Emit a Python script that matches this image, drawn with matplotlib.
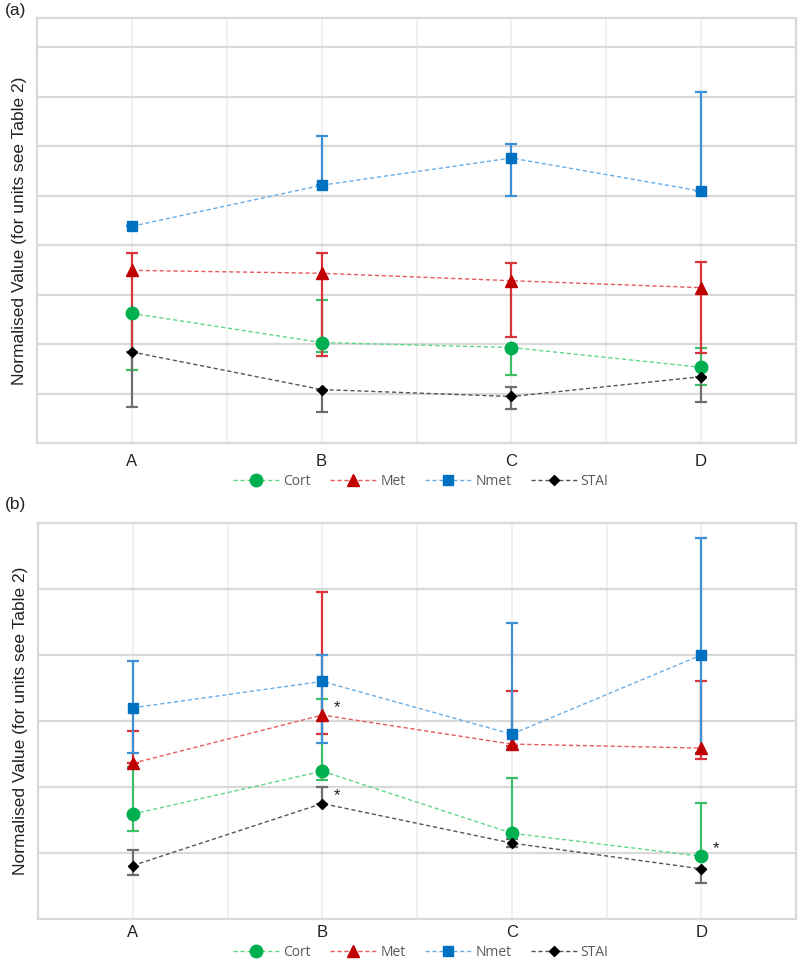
import matplotlib.pyplot as plt
import numpy as np

plt.rcParams['font.family'] = ['Liberation Sans', 'DejaVu Sans']

groups = ['A', 'B', 'C', 'D']
series = ['Cort', 'Met', 'Nmet', 'STAI']

# panel (a): mean, lower error, upper error (normalised units)
a_mean = {'Cort': [2.62, 2.03, 1.93, 1.53],
          'Met': [3.49, 3.43, 3.28, 3.14],
          'Nmet': [4.38, 5.21, 5.76, 5.09],
          'STAI': [1.84, 1.08, 0.94, 1.34]}
a_low = {'Cort': [1.15, 0.19, 0.55, 0.35],
         'Met': [1.65, 1.67, 1.14, 1.32],
         'Nmet': [0.0, 0.0, 0.76, 0.0],
         'STAI': [1.11, 0.45, 0.26, 0.51]}
a_up = {'Cort': [0.0, 0.86, 0.0, 0.40],
        'Met': [0.36, 0.41, 0.35, 0.52],
        'Nmet': [0.0, 0.99, 0.28, 2.0],
        'STAI': [0.0, 0.0, 0.20, 0.0]}

# panel (b)
b_mean = {'Cort': [1.59, 2.24, 1.30, 0.95],
          'Met': [2.36, 3.09, 2.65, 2.59],
          'Nmet': [3.20, 3.60, 2.80, 4.00],
          'STAI': [0.81, 1.75, 1.15, 0.76]}
b_low = {'Cort': [0.26, 0.14, 0.0, 0.0],
         'Met': [0.0, 0.29, 0.03, 0.16],
         'Nmet': [0.68, 0.94, 0.22, 1.49],
         'STAI': [0.15, 0.0, 0.06, 0.21]}
b_up = {'Cort': [0.71, 1.09, 0.84, 0.81],
        'Met': [0.49, 1.87, 0.80, 1.02],
        'Nmet': [0.71, 0.40, 1.69, 1.77],
        'STAI': [0.24, 0.25, 0.06, 0.0]}
b_stars = [('Met', 1), ('STAI', 1), ('Cort', 3)]

style = {
    'Cort': dict(marker='o', mc='#00b050', lc='#5fd68a', ec='#3cbf66', ms=9),
    'Met': dict(marker='^', mc='#c00000', lc='#e8595c', ec='#d8353b', ms=8.5),
    'Nmet': dict(marker='s', mc='#0070c0', lc='#6aaee8', ec='#3d8fd6', ms=7.5),
    'STAI': dict(marker='D', mc='#000000', lc='#555555', ec='#6e6e6e', ms=5.5),
}

x = np.arange(len(groups)) + 0.5

fig = plt.figure(figsize=(7.99, 9.6), dpi=100)
ax_a = fig.add_axes([37/799, 1-443/960, (796-37)/799, (443-18)/960])
ax_b = fig.add_axes([38/799, 1-919/960, (796-38)/799, (919-523)/960])


def draw(ax, mean, low, up, ytop, ngrid, leg_y, tpad):
    handles = []
    for s in series:
        st = style[s]
        ax.errorbar(x, mean[s], yerr=[low[s], up[s]], fmt='none', ecolor=st['ec'],
                    elinewidth=1.6, capsize=4, capthick=1.6, zorder=3)
        h, = ax.plot(x, mean[s], linestyle=(0, (3, 2)), lw=1.0, color=st['lc'],
                     marker=st['marker'], ms=st['ms'], mfc=st['mc'], mec=st['mc'],
                     label=s, zorder=4)
        handles.append(h)
    ax.set_xlim(0, 4)
    ax.set_ylim(0, ytop)
    ax.set_xticks(x)
    ax.set_xticklabels(groups, fontsize=12, color='#222222')
    ax.set_xticks(np.arange(0, 4.01, 0.5), minor=True)
    ax.set_yticks(np.arange(1, ngrid + 1))
    ax.set_yticklabels([])
    ax.tick_params(axis='both', which='both', length=0)
    ax.tick_params(axis='x', pad=tpad)
    ax.grid(True, axis='y', which='major', color='#d9d9d9', lw=1.6, zorder=0)
    ax.grid(True, axis='x', which='both', color='#ededed', lw=1.2, zorder=0)
    for sp in ax.spines.values():
        sp.set_color('#d9d9d9')
        sp.set_linewidth(1.6)
    ax.set_ylabel('Normalised Value (for units see Table 2)', fontsize=12.5, color='#222222', labelpad=4)
    # legend centre given in figure pixels
    leg = ax.legend(handles=handles, loc='center', bbox_to_anchor=(421 / 799, 1 - leg_y / 960),
                    bbox_transform=fig.transFigure, ncol=4,
                    frameon=False, handlelength=3.3, columnspacing=1.4,
                    handletextpad=0.3, borderpad=0.1,
                    prop={'family': ['Open Sans', 'DejaVu Sans'], 'size': 10})
    for t in leg.get_texts():
        t.set_color('#595959')
    ax.set_axisbelow(True)


draw(ax_a, a_mean, a_low, a_up, 8.59, 8, 481, 8)
draw(ax_b, b_mean, b_low, b_up, 6.0, 5, 952, 4)

for s, i in b_stars:
    ax_b.annotate('*', (x[i], b_mean[s][i]), xytext=(8, 0), textcoords='offset points',
                  fontsize=12, color='#222222', ha='left', va='bottom')

fig.text(5/799, 1-10/960, '(a)', fontsize=12.5, va='center', ha='left', color='#222222')
fig.text(5/799, 1-505/960, '(b)', fontsize=12.5, va='center', ha='left', color='#222222')

fig.savefig('out.png', dpi=100)
